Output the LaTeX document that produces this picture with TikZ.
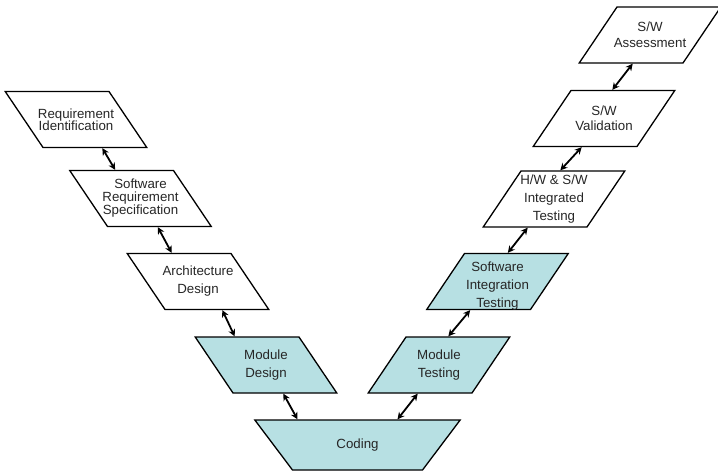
\documentclass[tikz,border=0pt]{standalone}
\usepackage{fontspec}
\setmainfont{Liberation Sans}
\usetikzlibrary{shapes.geometric, arrows.meta, calc}
\definecolor{vteal}{RGB}{183,224,227}
% fixed text block, so that every box gets the same size
\newcommand{\vtext}[3]{\parbox[c][#1][c]{#2}{\centering #3}}

\begin{document}
\begin{tikzpicture}[x=1pt, y=-1pt,
      tag/.style={font=\fontsize{13.3}{18}\selectfont, text=black!85},
      vbox/.style={trapezium, draw=black, line width=1.3pt, minimum size=0pt,
        inner xsep=-7pt, inner ysep=4pt, tag},
      desc/.style={vbox, trapezium left angle=124, trapezium right angle=56},
      asc/.style={vbox, trapezium left angle=56, trapezium right angle=124},
      shaded/.style={fill=vteal},
      flecha/.style={{Stealth[length=7pt,width=7pt]}-{Stealth[length=7pt,width=7pt]}, line width=1.8pt}
    ]
      \useasboundingbox (0,0) rectangle (718,471);

      % left branch
      \node[desc] (ri) at (76,119.5) {\vtext{48pt}{80pt}{Requirement\\[-5.5pt]Identification}};
      \node[desc] (srs) at (140.5,198.5) {\vtext{48pt}{80pt}{Software\\[-5pt]Requirement\\[-5pt]Specification}};
      \node[desc] (ad) at (198,281.5) {\vtext{48pt}{80pt}{Architecture\\Design}};
      \node[desc, shaded] (md) at (266,365) {\vtext{48pt}{80pt}{Module\\Design}};

      % bottom
      \node[trapezium, draw=black, line width=1.3pt, minimum size=0pt, inner sep=0pt,
        inner ysep=3pt, trapezium left angle=127, trapezium right angle=127,
        shaded, tag] (cod) at (357.5,445) {\vtext{44pt}{130pt}{Coding}};

      % right branch
      \node[asc, shaded] (mt) at (439,365) {\vtext{48pt}{80pt}{Module\\Testing}};
      \node[asc, shaded] (sit) at (497.5,281.5) {\vtext{48pt}{80pt}{\vspace*{10pt}Software\\Integration\\Testing}};
      \node[asc] (hw) at (554,199) {\vtext{48pt}{80pt}{H/W \& S/W\\Integrated\\Testing}};
      \node[asc] (val) at (604,118.5) {\vtext{48pt}{80pt}{S/W\\[-3pt]Validation}};
      \node[asc] (ass) at (650,35) {\vtext{48pt}{80pt}{S/W\\[-2pt]Assessment}};

      \draw[flecha] ([xshift=7pt]ri.bottom side) -- ([xshift=-6pt]srs.top side);
      \draw[flecha] ([xshift=-2pt]srs.bottom side) -- ([xshift=-7pt]ad.top side);
      \draw[flecha] ([xshift=5pt]ad.bottom side) -- ([xshift=-12pt]md.top side);
      \draw[flecha] ([xshift=-2pt]md.bottom side) -- ([xshift=-60pt]cod.top side);
      \draw[flecha] ([xshift=-2pt]mt.bottom side) -- ([xshift=40pt]cod.top side);
      \draw[flecha] ([xshift=-8pt]sit.bottom side) -- ([xshift=-10pt]mt.top side);
      \draw[flecha] ([xshift=-7pt]hw.bottom side) -- ([xshift=-9pt]sit.top side);
      \draw[flecha] ([xshift=-3pt]val.bottom side) -- ([xshift=-13pt]hw.top side);
      \draw[flecha] ([xshift=2pt]ass.bottom side) -- ([xshift=-11pt]val.top side);
    \end{tikzpicture}
\end{document}
